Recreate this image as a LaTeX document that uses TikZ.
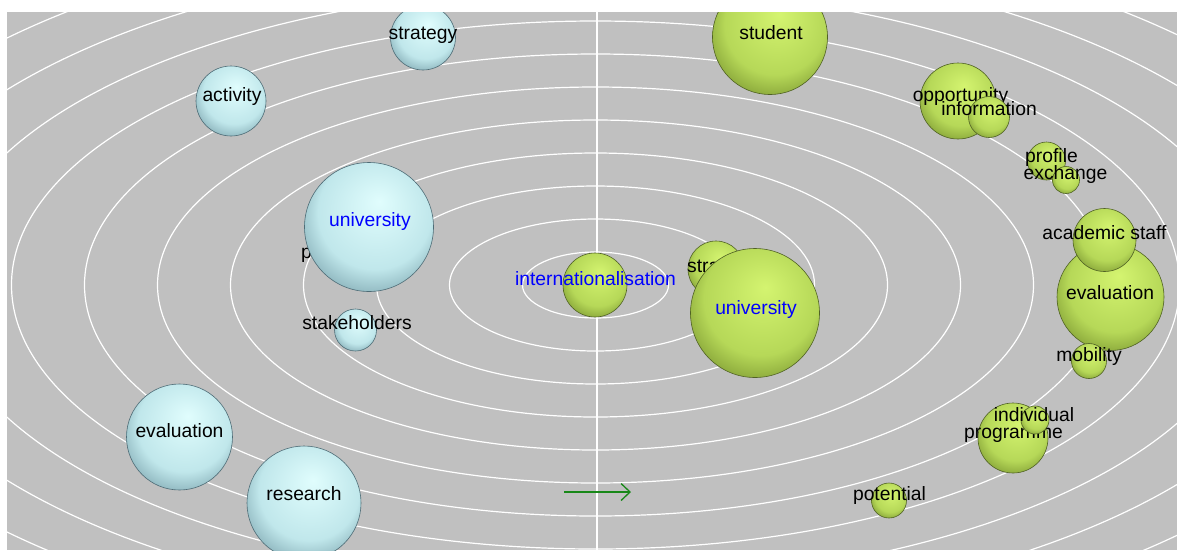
\documentclass[tikz,border=0pt]{standalone}
\usepackage{fontspec}
\setmainfont{Liberation Sans}
\usetikzlibrary{arrows.meta}

\definecolor{panel}{RGB}{192,192,192}
\definecolor{gHi}{RGB}{212,244,112}
\definecolor{gMid}{RGB}{182,216,88}
\definecolor{gLow}{RGB}{140,170,60}
\definecolor{gRim}{RGB}{80,98,36}
\definecolor{bHi}{RGB}{224,253,253}
\definecolor{bMid}{RGB}{192,231,235}
\definecolor{bLow}{RGB}{144,184,192}
\definecolor{bRim}{RGB}{78,108,118}
\definecolor{arrowgreen}{RGB}{24,136,24}
\definecolor{keyblue}{RGB}{0,0,255}

\pgfdeclareradialshading{greenshade}{\pgfpoint{4bp}{10bp}}{%
  color(0bp)=(gHi); color(12bp)=(gHi!45!gMid); color(22bp)=(gMid);
  color(30bp)=(gLow); color(34bp)=(gRim); color(50bp)=(gRim)}
\pgfdeclareradialshading{blueshade}{\pgfpoint{4bp}{10bp}}{%
  color(0bp)=(bHi); color(12bp)=(bHi!45!bMid); color(22bp)=(bMid);
  color(30bp)=(bLow); color(34bp)=(bRim); color(50bp)=(bRim)}

\newcommand{\wordfont}{\fontsize{19.3}{22}\selectfont}

\begin{document}
\begin{tikzpicture}[x=1pt, y=-1pt,
    greenball/.style={shading=greenshade, draw=gRim, line width=0.6pt},
    blueball/.style={shading=blueshade, draw=bRim, line width=0.6pt},
    word/.style={font=\wordfont, text=black, inner sep=0pt,
      text height=2.4ex, text depth=0pt},
    keyword/.style={word, text=keyblue},
    orbit/.style={draw=white, line width=1.2pt}]

\useasboundingbox (0,0) rectangle (1177,550);
\begin{scope}
\clip (7,12) rectangle (1177,550);
\fill [panel] (7,12) rectangle (1177,550);

% orbits round the centre
\foreach \k in {1,...,12}
  \draw [orbit] (595.5,285) ellipse [x radius=\k*73pt, y radius=\k*33pt];
\coordinate (axistop) at (597,12);
\coordinate (axisbottom) at (597,550);
\draw [orbit] (axistop) -- (axisbottom);

% left cluster
\draw [blueball] (423,37.5) circle [radius=32.5pt];
\path (423,33) node (strategy1) [word] {strategy};

\draw [blueball] (231,101) circle [radius=35pt];
\path (232,95) node (activity) [word] {activity};

\path (301,252) node (plabel) [word, anchor=west] {p};
\draw [blueball] (369,227) circle [radius=64.5pt];
\path (370,220) node (university1) [keyword] {university};

\draw [blueball] (355.5,330) circle [radius=21pt];
\path (357,323) node (stakeholders) [word] {stakeholders};

\draw [blueball] (179.5,437) circle [radius=53pt];
\path (179.5,431) node (evaluation1) [word] {evaluation};

\draw [blueball] (304,503) circle [radius=57pt];
\path (304,494) node (research) [word] {research};

% centre
\draw [greenball] (595,285) circle [radius=32pt];
\path (595.5,279) node (internationalisation) [keyword]
  {internationalisation};

% right cluster
\draw [greenball] (770,37) circle [radius=57.5pt];
\path (771,33) node (student) [word] {student};

\draw [greenball] (716,269) circle [radius=28pt];
\path (687,266) node (strategy2) [word, anchor=west] {strategy};
\draw [greenball] (755,313) circle [radius=64.5pt];
\path (756,308) node (university2) [keyword] {university};

\draw [greenball] (958,101) circle [radius=38pt];
\path (960.5,95) node (opportunity) [word] {opportunity};
\draw [greenball] (989,117) circle [radius=20.5pt];
\path (989,109) node (information) [word] {information};

\draw [greenball] (1046.5,161) circle [radius=19pt];
\path (1051.5,156) node (profile) [word] {profile};
\draw [greenball] (1066,180) circle [radius=13.5pt];
\path (1065.5,173) node (exchange) [word] {exchange};

\draw [greenball] (1110.5,297) circle [radius=53.5pt];
\path (1110,293) node (evaluation2) [word] {evaluation};
\draw [greenball] (1104.5,240) circle [radius=31.5pt];
\path (1104.5,233) node (academicstaff) [word] {academic staff};
\draw [greenball] (1089,361) circle [radius=17.5pt];
\path (1089,355) node (mobility) [word] {mobility};

\draw [greenball] (1013,438) circle [radius=35pt];
\path (1013.5,432) node (programme) [word] {programme};
\draw [greenball] (1035,420) circle [radius=14pt];
\path (1034,415) node (individual) [word] {individual};

\draw [greenball] (889,500.5) circle [radius=17.5pt];
\path (889.5,494) node (potential) [word] {potential};

% direction arrow
\coordinate (arrowtail) at (564,492);
\coordinate (arrowtip) at (631,492);
\draw [arrowgreen, line width=1.3pt,
  -{Straight Barb[length=9pt, width=17pt]}] (arrowtail) -- (arrowtip);
\end{scope}
\end{tikzpicture}
\end{document}
